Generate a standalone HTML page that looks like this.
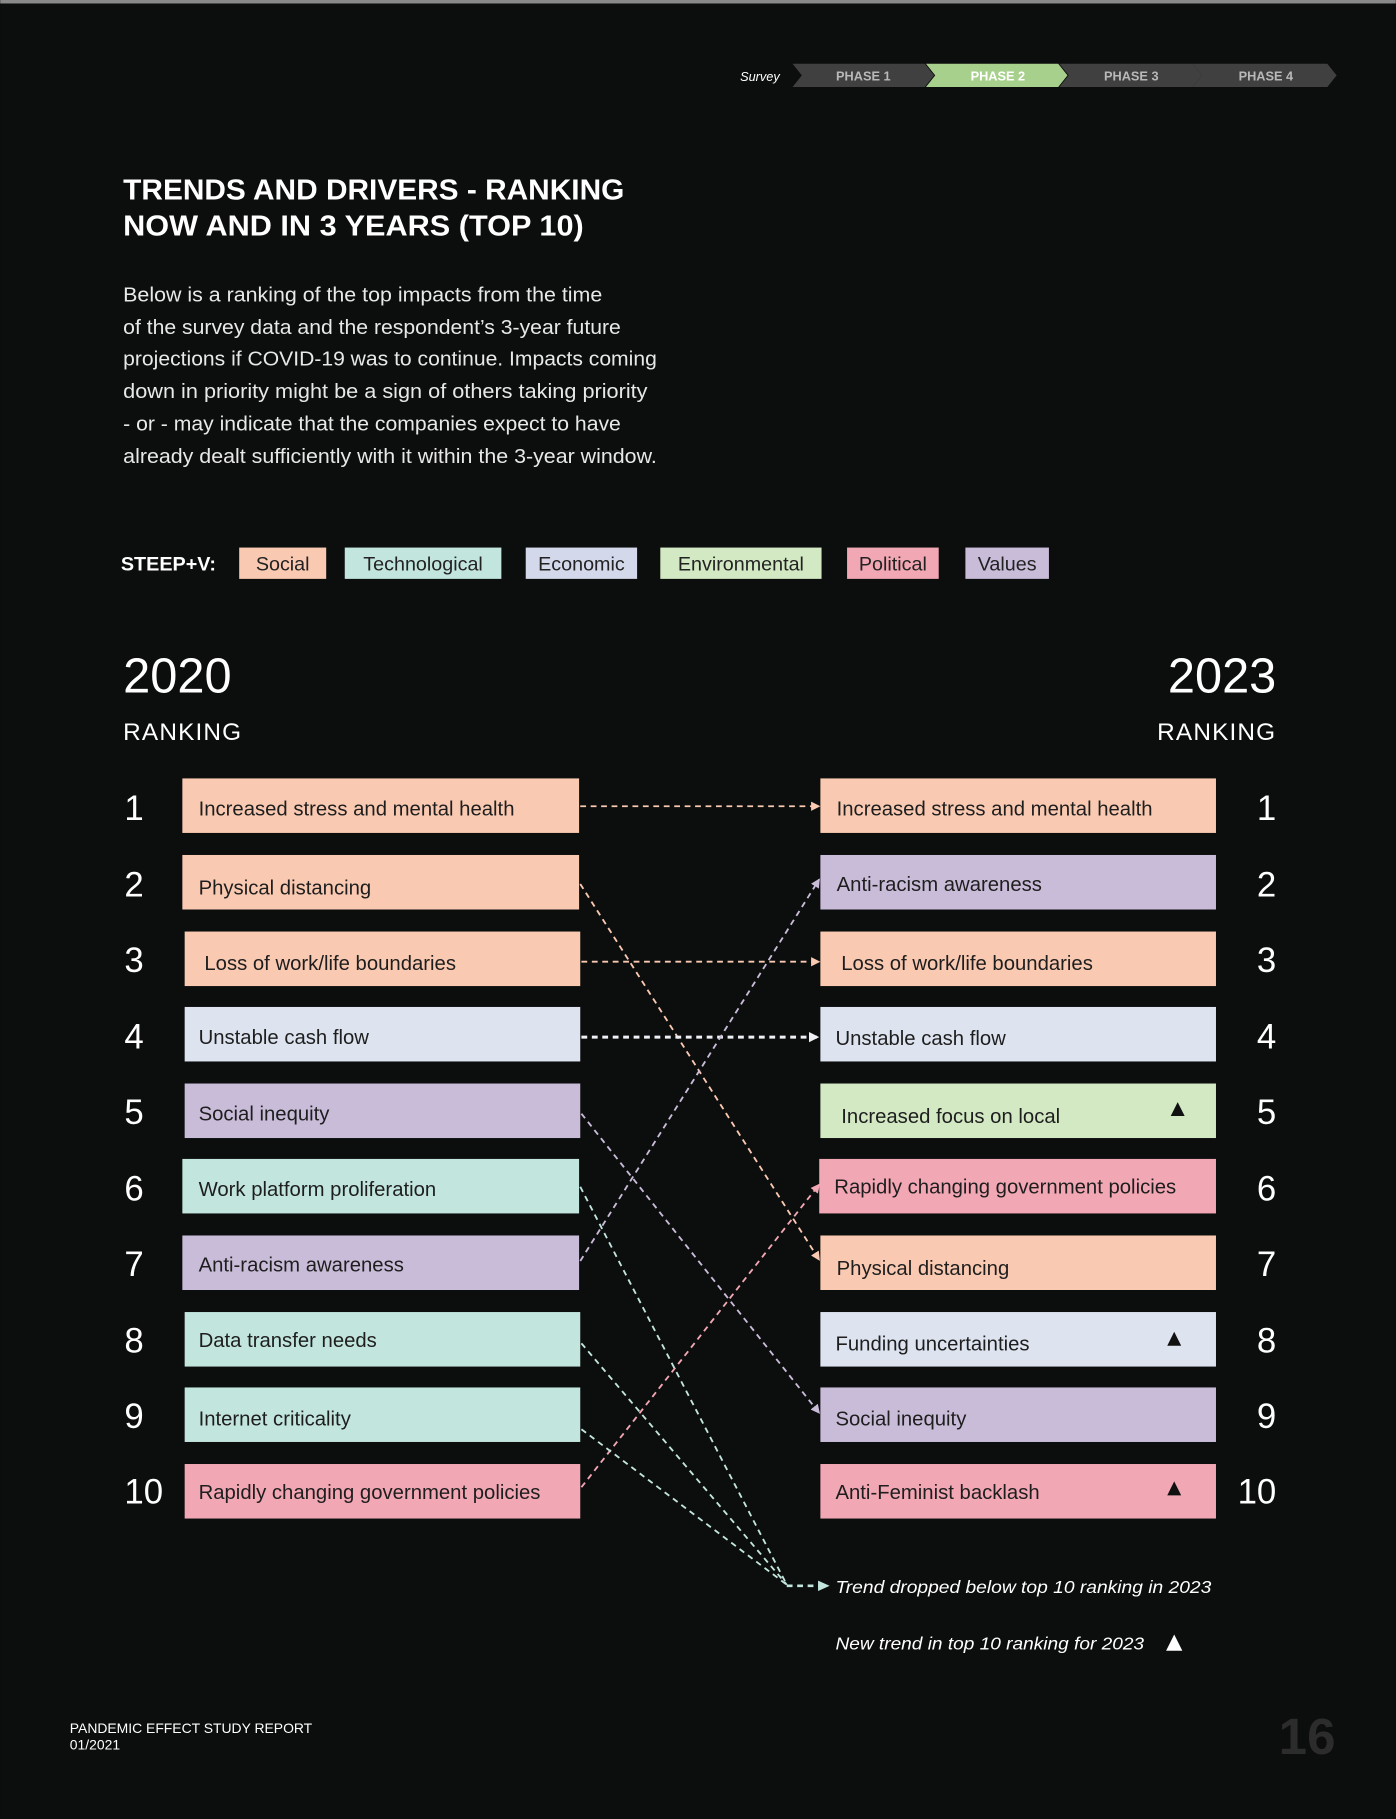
<!DOCTYPE html>
<html><head><meta charset="utf-8"><style>
html,body{margin:0;padding:0;background:#0c0d0d;}
svg{display:block;}
text{font-family:"Liberation Sans",sans-serif;}
</style></head><body>
<svg width="1396" height="1819" viewBox="0 0 1203 1568" xmlns="http://www.w3.org/2000/svg">
<defs>
<marker id="aS" markerWidth="8" markerHeight="8" refX="7" refY="4" orient="auto" markerUnits="userSpaceOnUse"><path d="M0,0 L8,4 L0,8 z" fill="#f9c9b1"/></marker>
<marker id="aE" markerWidth="9" markerHeight="9" refX="8" refY="4.5" orient="auto" markerUnits="userSpaceOnUse"><path d="M0,0 L9,4.5 L0,9 z" fill="#eef1f6"/></marker>
<marker id="aV" markerWidth="8" markerHeight="8" refX="7" refY="4" orient="auto" markerUnits="userSpaceOnUse"><path d="M0,0 L8,4 L0,8 z" fill="#c9bcd9"/></marker>
<marker id="aP" markerWidth="8" markerHeight="8" refX="7" refY="4" orient="auto" markerUnits="userSpaceOnUse"><path d="M0,0 L8,4 L0,8 z" fill="#f2a7b4"/></marker>
<marker id="aT" markerWidth="10" markerHeight="9" refX="9" refY="4.5" orient="auto" markerUnits="userSpaceOnUse"><path d="M0,0 L10,4.5 L0,9 z" fill="#c2e5dd"/></marker>
</defs>
<rect width="1203" height="1568" fill="#0c0d0d"/>
<rect width="1203" height="3" fill="#8a8a8a"/>

<!-- phase bar -->
<text x="672" y="70" font-size="11" font-style="italic" fill="#fff" text-anchor="end">Survey</text>
<polygon points="683,55 797,55 805,65 797,75 683,75 691,65" fill="#404040"/>
<polygon points="798,55 912,55 920,65 912,75 798,75 806,65" fill="#a8d08d"/>
<polygon points="913,55 1028,55 1036,65 1028,75 913,75 921,65" fill="#404040"/>
<polygon points="1028,55 1144,55 1152,65 1144,75 1028,75 1036,65" fill="#404040"/>
<text x="744" y="69.5" font-size="11" font-weight="bold" fill="#b8b8b8" text-anchor="middle">PHASE 1</text>
<text x="860" y="69.5" font-size="11" font-weight="bold" fill="#fff" text-anchor="middle">PHASE 2</text>
<text x="975" y="69.5" font-size="11" font-weight="bold" fill="#b8b8b8" text-anchor="middle">PHASE 3</text>
<text x="1091" y="69.5" font-size="11" font-weight="bold" fill="#b8b8b8" text-anchor="middle">PHASE 4</text>

<!-- title -->
<text x="106" y="172" font-size="25" font-weight="bold" fill="#fff" textLength="432" lengthAdjust="spacingAndGlyphs">TRENDS AND DRIVERS - RANKING</text>
<text x="106" y="203" font-size="25" font-weight="bold" fill="#fff" textLength="397" lengthAdjust="spacingAndGlyphs">NOW AND IN 3 YEARS (TOP 10)</text>

<g font-size="17.5" fill="#e8e8e8">
<text x="106" y="260" textLength="413" lengthAdjust="spacingAndGlyphs">Below is a ranking of the top impacts from the time</text>
<text x="106" y="288" textLength="429" lengthAdjust="spacingAndGlyphs">of the survey data and the respondent’s 3-year future</text>
<text x="106" y="315" textLength="460" lengthAdjust="spacingAndGlyphs">projections if COVID-19 was to continue. Impacts coming</text>
<text x="106" y="343" textLength="452" lengthAdjust="spacingAndGlyphs">down in priority might be a sign of others taking priority</text>
<text x="106" y="371" textLength="429" lengthAdjust="spacingAndGlyphs">- or - may indicate that the companies expect to have</text>
<text x="106" y="399" textLength="460" lengthAdjust="spacingAndGlyphs">already dealt sufficiently with it within the 3-year window.</text>
</g>

<!-- legend -->
<text x="104" y="492" font-size="17" font-weight="bold" fill="#fff" textLength="82" lengthAdjust="spacingAndGlyphs">STEEP+V:</text>
<g font-size="17" fill="#222">
<rect x="206" y="472" width="75" height="27" fill="#f9c9b1"/><text x="243.5" y="492" text-anchor="middle">Social</text>
<rect x="297" y="472" width="135" height="27" fill="#c2e5dd"/><text x="364.5" y="492" text-anchor="middle">Technological</text>
<rect x="453" y="472" width="96" height="27" fill="#d3d8ea"/><text x="501" y="492" text-anchor="middle">Economic</text>
<rect x="569" y="472" width="139" height="27" fill="#d2e9c3"/><text x="638.5" y="492" text-anchor="middle">Environmental</text>
<rect x="730" y="472" width="79" height="27" fill="#f2a7b4"/><text x="769.5" y="492" text-anchor="middle">Political</text>
<rect x="832" y="472" width="72" height="27" fill="#c9bcd9"/><text x="868" y="492" text-anchor="middle">Values</text>
</g>

<!-- headers -->
<text x="106" y="597" font-size="42" fill="#fff">2020</text>
<text x="106" y="638" font-size="21" fill="#fff" letter-spacing="1">RANKING</text>
<text x="1100" y="597" font-size="42" fill="#fff" text-anchor="end">2023</text>
<text x="1100" y="638" font-size="21" fill="#fff" text-anchor="end" letter-spacing="1">RANKING</text>

<!-- rank numbers -->
<g font-size="30" fill="#fff">
<text x="107" y="707">1</text><text x="107" y="773">2</text><text x="107" y="838">3</text><text x="107" y="904">4</text><text x="107" y="969">5</text><text x="107" y="1035">6</text><text x="107" y="1100">7</text><text x="107" y="1166">8</text><text x="107" y="1231">9</text><text x="107" y="1296">10</text>
</g>
<g font-size="30" fill="#fff" text-anchor="end">
<text x="1100" y="707">1</text><text x="1100" y="773">2</text><text x="1100" y="838">3</text><text x="1100" y="904">4</text><text x="1100" y="969">5</text><text x="1100" y="1035">6</text><text x="1100" y="1100">7</text><text x="1100" y="1166">8</text><text x="1100" y="1231">9</text><text x="1100" y="1296">10</text>
</g>

<!-- left boxes -->
<g font-size="17.5" fill="#1e1e1e">
<rect x="157" y="671" width="342" height="47" fill="#f9c9b1"/><text x="171" y="703">Increased stress and mental health</text>
<rect x="157" y="737" width="342" height="47" fill="#f9c9b1"/><text x="171" y="771">Physical distancing</text>
<rect x="159" y="803" width="341" height="47" fill="#f9c9b1"/><text x="176" y="836">Loss of work/life boundaries</text>
<rect x="159" y="868" width="341" height="47" fill="#dde4f0"/><text x="171" y="900">Unstable cash flow</text>
<rect x="159" y="934" width="341" height="47" fill="#c9bcd9"/><text x="171" y="966">Social inequity</text>
<rect x="157" y="999" width="342" height="47" fill="#c2e5dd"/><text x="171" y="1031">Work platform proliferation</text>
<rect x="157" y="1065" width="342" height="47" fill="#c9bcd9"/><text x="171" y="1096">Anti-racism awareness</text>
<rect x="159" y="1131" width="341" height="47" fill="#c2e5dd"/><text x="171" y="1161">Data transfer needs</text>
<rect x="159" y="1196" width="341" height="47" fill="#c2e5dd"/><text x="171" y="1229">Internet criticality</text>
<rect x="159" y="1262" width="341" height="47" fill="#f2a7b4"/><text x="171" y="1292">Rapidly changing government policies</text>
</g>

<!-- right boxes -->
<g font-size="17.5" fill="#1e1e1e">
<rect x="707" y="671" width="341" height="47" fill="#f9c9b1"/><text x="721" y="703">Increased stress and mental health</text>
<rect x="707" y="737" width="341" height="47" fill="#c9bcd9"/><text x="721" y="768">Anti-racism awareness</text>
<rect x="707" y="803" width="341" height="47" fill="#f9c9b1"/><text x="725" y="836">Loss of work/life boundaries</text>
<rect x="707" y="868" width="341" height="47" fill="#dde4f0"/><text x="720" y="901">Unstable cash flow</text>
<rect x="707" y="934" width="341" height="47" fill="#d2e9c3"/><text x="725" y="968">Increased focus on local</text>
<rect x="706" y="999" width="342" height="47" fill="#f2a7b4"/><text x="719" y="1029">Rapidly changing government policies</text>
<rect x="707" y="1065" width="341" height="47" fill="#f9c9b1"/><text x="721" y="1099">Physical distancing</text>
<rect x="707" y="1131" width="341" height="47" fill="#dde4f0"/><text x="720" y="1164">Funding uncertainties</text>
<rect x="707" y="1196" width="341" height="47" fill="#c9bcd9"/><text x="720" y="1229">Social inequity</text>
<rect x="707" y="1262" width="341" height="47" fill="#f2a7b4"/><text x="720" y="1292">Anti-Feminist backlash</text>
</g>
<g fill="#111">
<polygon points="1015,950 1021,962 1009,962"/>
<polygon points="1012,1148 1018,1160 1006,1160"/>
<polygon points="1012,1277 1018,1289 1006,1289"/>
</g>

<!-- connectors -->
<g fill="none" stroke-width="1.6" stroke-dasharray="5,4">
<line x1="500" y1="695" x2="706" y2="695" stroke="#f9c9b1" marker-end="url(#aS)"/>
<line x1="500" y1="762" x2="706" y2="1086" stroke="#f9c9b1" marker-end="url(#aS)"/>
<line x1="501" y1="829" x2="706" y2="829" stroke="#f9c9b1" marker-end="url(#aS)"/>
<line x1="501" y1="894" x2="705" y2="894" stroke="#eef1f6" stroke-width="2.6" marker-end="url(#aE)"/>
<line x1="501" y1="960" x2="706" y2="1218" stroke="#c9bcd9" marker-end="url(#aV)"/>
<line x1="500" y1="1087" x2="706" y2="758" stroke="#c9bcd9" marker-end="url(#aV)"/>
<line x1="501" y1="1282" x2="706" y2="1021" stroke="#f2a7b4" marker-end="url(#aP)"/>
<polyline points="500,1023 678,1366" stroke="#c2e5dd"/>
<polyline points="501,1158 678,1366" stroke="#c2e5dd"/>
<polyline points="501,1232 678,1366" stroke="#c2e5dd"/>
<line x1="678" y1="1367" x2="714" y2="1367" stroke="#c2e5dd" stroke-width="2.2" marker-end="url(#aT)"/>
</g>

<text x="720" y="1373" font-size="15.5" font-style="italic" fill="#fff" textLength="324" lengthAdjust="spacingAndGlyphs">Trend dropped below top 10 ranking in 2023</text>
<text x="720" y="1422" font-size="15.5" font-style="italic" fill="#fff" textLength="266" lengthAdjust="spacingAndGlyphs">New trend in top 10 ranking for 2023</text>
<polygon points="1012,1409 1019,1423 1005,1423" fill="#fff"/>

<!-- footer -->
<text x="60" y="1494" font-size="12" fill="#fff">PANDEMIC EFFECT STUDY REPORT</text>
<text x="60" y="1508" font-size="12" fill="#fff">01/2021</text>
<text x="1151" y="1512" font-size="44" font-weight="bold" fill="#2c2c2c" text-anchor="end">16</text>
</svg>
</body></html>
